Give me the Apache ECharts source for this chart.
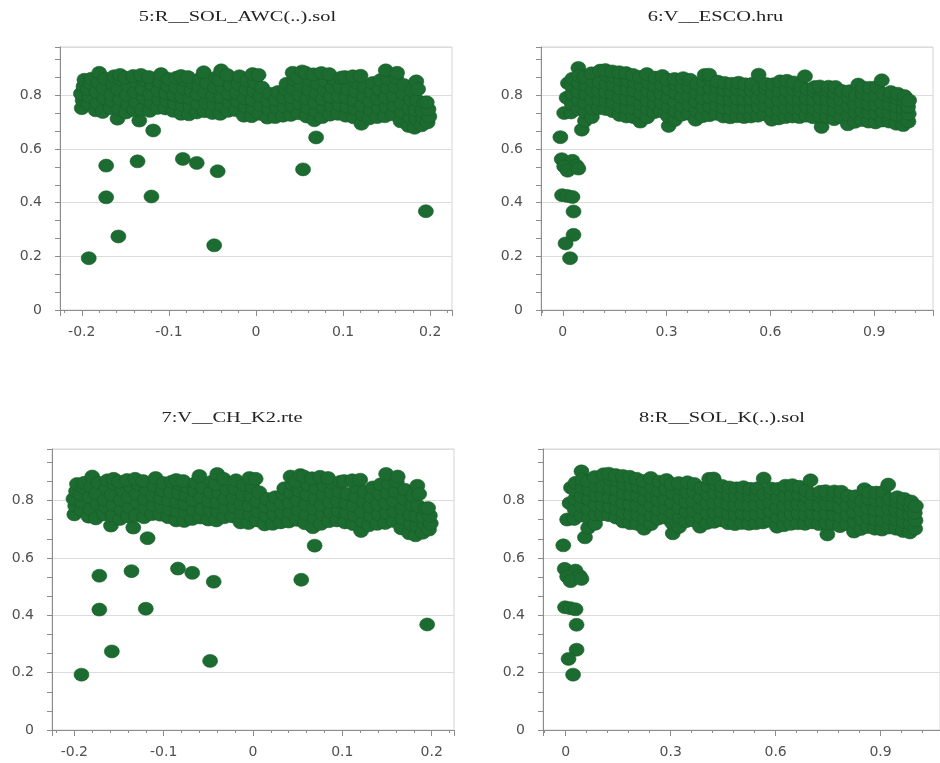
<!DOCTYPE html>
<html>
<head>
<meta charset="utf-8">
<script src="https://cdn.jsdelivr.net/npm/echarts@6/dist/echarts.min.js"></script>
<style>
html,body{margin:0;padding:0;background:#fff;}
#chart{width:940px;height:763px;}
</style>
</head>
<body>
<div id="chart"></div>
<script>
// ---------- titles ----------
const panelTitles = ['5:R__SOL_AWC(..).sol', '6:V__ESCO.hru', '7:V__CH_K2.rte', '8:R__SOL_K(..).sol'];

// ---------- axis ranges ----------
const yRange = [0, 0.98];
const xRangeAWC = [-0.225, 0.225];
const xRangeESCO = [-0.063, 1.07];
const xRangeCHK2 = [-0.225, 0.225];
const xRangeSOLK = [-0.065, 1.07];

// ---------- panel 5 (R__SOL_AWC) : isolated low points ----------
const awcOutliers = [
  [-0.192,0.193],[-0.172,0.538],[-0.172,0.420],[-0.158,0.274],[-0.136,0.554],
  [-0.134,0.706],[-0.118,0.669],[-0.120,0.423],[-0.084,0.563],[-0.068,0.548],
  [-0.044,0.517],[-0.048,0.241],[0.054,0.524],[0.069,0.643],[0.195,0.368]
];
// panel 5 : dense band of points
const awcBand = [
  [-0.200,0.752],[-0.199,0.781],[-0.201,0.806],[-0.198,0.833],[-0.197,0.858],
  [-0.192,0.767],[-0.191,0.795],[-0.193,0.822],[-0.190,0.846],[-0.189,0.862],
  [-0.184,0.744],[-0.182,0.771],[-0.183,0.812],[-0.181,0.848],[-0.180,0.884],
  [-0.176,0.738],[-0.174,0.789],[-0.175,0.826],[-0.173,0.862],
  [-0.167,0.752],[-0.165,0.779],[-0.166,0.803],[-0.164,0.842],[-0.163,0.871],
  [-0.159,0.713],[-0.157,0.748],[-0.156,0.785],[-0.158,0.821],[-0.155,0.858],[-0.156,0.876],
  [-0.149,0.736],[-0.147,0.768],[-0.148,0.802],[-0.146,0.835],[-0.150,0.866],
  [-0.140,0.745],[-0.138,0.776],[-0.139,0.812],[-0.137,0.849],[-0.141,0.872],
  [-0.131,0.748],[-0.129,0.791],[-0.130,0.823],[-0.128,0.857],[-0.132,0.876],
  [-0.122,0.742],[-0.120,0.772],[-0.121,0.805],[-0.119,0.838],[-0.123,0.868],
  [-0.113,0.753],[-0.111,0.784],[-0.112,0.817],[-0.110,0.851],[-0.109,0.879],
  [-0.104,0.751],[-0.102,0.779],[-0.103,0.808],[-0.101,0.836],[-0.100,0.861],
  [-0.095,0.742],[-0.093,0.770],[-0.094,0.801],[-0.092,0.829],[-0.091,0.866],
  [-0.086,0.731],[-0.084,0.763],[-0.085,0.795],[-0.083,0.826],[-0.082,0.857],[-0.086,0.872],
  [-0.077,0.729],[-0.075,0.758],[-0.076,0.789],[-0.074,0.818],[-0.073,0.848],[-0.078,0.868],
  [-0.068,0.736],[-0.066,0.767],[-0.067,0.803],[-0.065,0.834],[-0.064,0.862],
  [-0.059,0.741],[-0.057,0.771],[-0.058,0.812],[-0.056,0.846],[-0.060,0.886],
  [-0.050,0.734],[-0.048,0.766],[-0.049,0.798],[-0.047,0.829],[-0.046,0.866],
  [-0.041,0.731],[-0.039,0.761],[-0.040,0.793],[-0.038,0.827],[-0.042,0.858],[-0.040,0.893],
  [-0.032,0.742],[-0.030,0.774],[-0.031,0.806],[-0.029,0.838],[-0.033,0.876],
  [-0.023,0.745],[-0.021,0.778],[-0.022,0.809],[-0.020,0.842],[-0.019,0.871],
  [-0.014,0.724],[-0.012,0.757],[-0.013,0.789],[-0.011,0.821],[-0.010,0.855],
  [-0.005,0.722],[-0.003,0.751],[-0.004,0.783],[-0.002,0.816],[-0.001,0.848],[-0.004,0.879],
  [0.004,0.731],[0.006,0.763],[0.005,0.797],[0.007,0.829],[0.003,0.876],
  [0.013,0.717],[0.015,0.748],[0.014,0.779],[0.016,0.806],
  [0.022,0.719],[0.024,0.752],[0.023,0.784],[0.025,0.812],
  [0.031,0.724],[0.033,0.757],[0.032,0.791],[0.034,0.822],[0.035,0.843],
  [0.040,0.727],[0.042,0.759],[0.041,0.793],[0.043,0.826],[0.044,0.858],[0.042,0.884],
  [0.049,0.733],[0.051,0.768],[0.050,0.801],[0.052,0.834],[0.048,0.866],[0.053,0.889],
  [0.058,0.721],[0.060,0.754],[0.059,0.788],[0.061,0.821],[0.062,0.856],[0.057,0.884],
  [0.067,0.707],[0.069,0.739],[0.068,0.772],[0.070,0.806],[0.071,0.843],[0.066,0.878],
  [0.076,0.719],[0.078,0.752],[0.077,0.786],[0.079,0.819],[0.080,0.852],[0.075,0.883],
  [0.085,0.728],[0.087,0.761],[0.086,0.795],[0.088,0.829],[0.089,0.861],[0.084,0.879],
  [0.094,0.731],[0.096,0.764],[0.095,0.797],[0.097,0.832],[0.098,0.866],
  [0.103,0.724],[0.105,0.757],[0.104,0.791],[0.106,0.823],[0.102,0.868],
  [0.112,0.718],[0.114,0.749],[0.113,0.782],[0.115,0.815],[0.116,0.847],[0.111,0.871],
  [0.121,0.694],[0.123,0.727],[0.122,0.761],[0.124,0.796],[0.125,0.831],[0.120,0.873],
  [0.130,0.714],[0.132,0.746],[0.131,0.779],[0.133,0.812],[0.134,0.846],
  [0.139,0.719],[0.141,0.752],[0.140,0.787],[0.142,0.821],[0.143,0.857],
  [0.148,0.722],[0.150,0.756],[0.149,0.791],[0.151,0.826],[0.152,0.861],[0.149,0.893],
  [0.157,0.729],[0.159,0.762],[0.158,0.798],[0.160,0.832],[0.161,0.866],[0.162,0.884],
  [0.166,0.703],[0.168,0.736],[0.167,0.771],[0.169,0.806],[0.170,0.838],
  [0.175,0.686],[0.177,0.718],[0.176,0.751],[0.178,0.785],[0.179,0.818],
  [0.182,0.679],[0.184,0.712],[0.183,0.746],[0.185,0.781],[0.184,0.852],[0.186,0.823],
  [0.190,0.688],[0.192,0.716],[0.191,0.743],[0.193,0.772],
  [0.197,0.699],[0.199,0.721],[0.198,0.748],[0.196,0.774]
];

// ---------- panel 6 (V__ESCO) : isolated low points ----------
const escoOutliers = [
  [-0.007,0.644],[-0.003,0.562],[0.028,0.556],[0.004,0.535],[0.040,0.537],
  [0.014,0.519],[0.045,0.527],[-0.002,0.428],[0.013,0.425],[0.028,0.421],
  [0.031,0.367],[0.031,0.280],[0.008,0.248],[0.021,0.193],[0.055,0.672]
];
// panel 6 : dense band of points
const escoBand = [
  [0.004,0.734],[0.011,0.791],[0.015,0.845],
  [0.024,0.736],[0.026,0.768],[0.027,0.806],[0.025,0.838],[0.028,0.862],
  [0.044,0.748],[0.046,0.781],[0.045,0.813],[0.047,0.845],[0.045,0.902],[0.048,0.873],
  [0.064,0.705],[0.066,0.738],[0.065,0.771],[0.067,0.804],[0.068,0.837],[0.063,0.868],
  [0.084,0.719],[0.086,0.752],[0.085,0.785],[0.087,0.818],[0.088,0.851],[0.083,0.882],
  [0.104,0.752],[0.106,0.783],[0.105,0.816],[0.107,0.848],[0.108,0.892],
  [0.124,0.749],[0.126,0.779],[0.125,0.811],[0.127,0.843],[0.128,0.874],[0.123,0.894],
  [0.144,0.741],[0.146,0.772],[0.145,0.805],[0.147,0.838],[0.148,0.871],[0.143,0.889],
  [0.164,0.727],[0.166,0.758],[0.165,0.792],[0.167,0.825],[0.168,0.858],[0.163,0.886],
  [0.184,0.721],[0.186,0.753],[0.185,0.787],[0.187,0.821],[0.188,0.855],[0.183,0.883],
  [0.204,0.719],[0.206,0.751],[0.205,0.784],[0.207,0.817],[0.208,0.849],[0.203,0.876],
  [0.224,0.702],[0.226,0.736],[0.225,0.769],[0.227,0.803],[0.228,0.838],[0.223,0.868],
  [0.244,0.718],[0.246,0.749],[0.245,0.782],[0.247,0.815],[0.248,0.848],[0.243,0.879],
  [0.264,0.737],[0.266,0.768],[0.265,0.801],[0.267,0.834],[0.268,0.866],
  [0.284,0.741],[0.286,0.772],[0.285,0.806],[0.287,0.839],[0.288,0.872],
  [0.306,0.686],[0.304,0.722],[0.306,0.757],[0.305,0.791],[0.307,0.825],[0.303,0.858],
  [0.324,0.708],[0.326,0.741],[0.325,0.775],[0.327,0.808],[0.328,0.842],[0.323,0.861],
  [0.344,0.728],[0.346,0.761],[0.345,0.795],[0.347,0.829],[0.348,0.864],
  [0.364,0.731],[0.366,0.764],[0.365,0.797],[0.367,0.831],[0.368,0.858],
  [0.384,0.709],[0.386,0.742],[0.385,0.776],[0.387,0.809],[0.388,0.843],
  [0.404,0.722],[0.406,0.755],[0.405,0.789],[0.407,0.822],[0.408,0.851],[0.410,0.876],
  [0.424,0.726],[0.426,0.758],[0.425,0.792],[0.427,0.826],[0.428,0.859],[0.423,0.877],
  [0.444,0.731],[0.446,0.763],[0.445,0.796],[0.447,0.828],[0.448,0.851],
  [0.464,0.721],[0.466,0.754],[0.465,0.787],[0.467,0.819],[0.468,0.846],
  [0.484,0.718],[0.486,0.751],[0.485,0.783],[0.487,0.816],[0.488,0.843],
  [0.504,0.722],[0.506,0.755],[0.505,0.788],[0.507,0.821],[0.508,0.847],
  [0.524,0.719],[0.526,0.752],[0.525,0.785],[0.527,0.817],[0.528,0.841],
  [0.544,0.721],[0.546,0.753],[0.545,0.786],[0.547,0.818],[0.548,0.843],
  [0.564,0.724],[0.566,0.757],[0.565,0.790],[0.567,0.823],[0.566,0.877],
  [0.584,0.729],[0.586,0.761],[0.585,0.794],[0.587,0.826],[0.588,0.842],
  [0.604,0.709],[0.606,0.742],[0.605,0.775],[0.607,0.808],[0.608,0.841],
  [0.624,0.714],[0.626,0.747],[0.625,0.781],[0.627,0.815],[0.628,0.852],
  [0.644,0.719],[0.646,0.752],[0.645,0.786],[0.647,0.819],[0.648,0.854],
  [0.664,0.721],[0.666,0.754],[0.665,0.787],[0.667,0.821],[0.668,0.848],
  [0.684,0.719],[0.686,0.751],[0.685,0.784],[0.687,0.816],[0.688,0.836],
  [0.704,0.724],[0.706,0.756],[0.705,0.789],[0.707,0.822],[0.700,0.871],
  [0.724,0.718],[0.726,0.751],[0.725,0.783],[0.727,0.815],[0.728,0.831],
  [0.748,0.682],[0.744,0.722],[0.746,0.755],[0.745,0.788],[0.747,0.821],[0.743,0.833],
  [0.764,0.719],[0.766,0.752],[0.765,0.785],[0.767,0.817],[0.768,0.832],
  [0.784,0.711],[0.786,0.744],[0.785,0.777],[0.787,0.809],[0.788,0.831],
  [0.804,0.718],[0.806,0.751],[0.805,0.783],[0.807,0.816],
  [0.824,0.692],[0.826,0.726],[0.825,0.759],[0.827,0.791],[0.828,0.815],
  [0.844,0.701],[0.846,0.734],[0.845,0.767],[0.847,0.799],[0.854,0.840],
  [0.864,0.708],[0.866,0.741],[0.865,0.774],[0.867,0.806],[0.868,0.829],
  [0.884,0.702],[0.886,0.735],[0.885,0.768],[0.887,0.801],[0.888,0.828],
  [0.904,0.699],[0.906,0.732],[0.905,0.765],[0.907,0.798],[0.908,0.831],
  [0.924,0.706],[0.926,0.739],[0.925,0.772],[0.927,0.805],[0.922,0.856],
  [0.944,0.702],[0.946,0.734],[0.945,0.766],[0.947,0.797],[0.948,0.812],
  [0.964,0.694],[0.966,0.726],[0.965,0.758],[0.967,0.789],[0.968,0.806],
  [0.984,0.689],[0.986,0.719],[0.985,0.751],[0.987,0.779],[0.988,0.797],
  [0.999,0.702],[1.000,0.731],[0.998,0.757],[1.001,0.781]
];

// Panels 7 and 8 show the same scatter as panels 5 and 6 in the picture
const chk2Outliers = awcOutliers, chk2Band = awcBand;
const solkOutliers = escoOutliers, solkBand = escoBand;

// ---------- chart ----------
const axisGray = '#8c8c8c';
const labelStyle = {color:'#505050', fontFamily:'DejaVu Sans', fontSize:14};

function makeX(i, range, split) {
  return {
    type:'value', gridIndex:i, min:range[0], max:range[1], splitNumber:split,
    axisLine:{show:true, onZero:false, lineStyle:{color:axisGray}},
    axisTick:{show:true, length:6, lineStyle:{color:axisGray}},
    minorTick:{show:true, splitNumber:5, length:3, lineStyle:{color:axisGray}},
    splitLine:{show:false},
    axisLabel:Object.assign({showMinLabel:false, showMaxLabel:false, margin:15}, labelStyle)
  };
}
function makeY(i) {
  return {
    type:'value', gridIndex:i, min:yRange[0], max:yRange[1], splitNumber:5,
    axisLine:{show:true, onZero:false, lineStyle:{color:axisGray}},
    axisTick:{show:true, length:5, lineStyle:{color:axisGray}},
    minorTick:{show:true, splitNumber:3, length:5, lineStyle:{color:axisGray}},
    splitLine:{show:true, lineStyle:{color:'#dcdcdc'}},
    axisLabel:Object.assign({showMaxLabel:false, margin:18}, labelStyle)
  };
}
function makeSeries(i, pts) {
  return {
    type:'scatter', xAxisIndex:i, yAxisIndex:i, data:pts, symbol:'circle',
    symbolSize:[15,13], silent:true,
    itemStyle:{color:'#1c6b30', borderColor:'#175e29', borderWidth:0.6, opacity:1}
  };
}
const gridBase = {show:true, borderColor:'#d4d4d4', borderWidth:1, backgroundColor:'transparent'};
const titlePos = [[237.5,17],[715.5,17],[232,418],[722,418]];

const option = {
  animation:false,
  backgroundColor:'#ffffff',
  grid:[
    Object.assign({left:60, top:47, width:392, height:263}, gridBase),
    Object.assign({left:541, top:47, width:392, height:263}, gridBase),
    Object.assign({left:52, top:449, width:402, height:281}, gridBase),
    Object.assign({left:543, top:449, width:402, height:281}, gridBase)
  ],
  xAxis:[makeX(0, xRangeAWC, 5), makeX(1, xRangeESCO, 4), makeX(2, xRangeCHK2, 5), makeX(3, xRangeSOLK, 4)],
  yAxis:[makeY(0), makeY(1), makeY(2), makeY(3)],
  series:[
    makeSeries(0, awcOutliers.concat(awcBand)),
    makeSeries(1, escoOutliers.concat(escoBand)),
    makeSeries(2, chk2Outliers.concat(chk2Band)),
    makeSeries(3, solkOutliers.concat(solkBand))
  ],
  graphic: panelTitles.map((t, i) => ({
    type:'text', x:titlePos[i][0], y:titlePos[i][1], scaleX:1.36, scaleY:1,
    style:{text:t, font:'15px "Liberation Serif"', fill:'#222',
      align:'center', verticalAlign:'middle', textAlign:'center', textVerticalAlign:'middle'}
  }))
};

const chart = echarts.init(document.getElementById('chart'), null, {renderer:'canvas'});
chart.setOption(option);
</script>
</body>
</html>
